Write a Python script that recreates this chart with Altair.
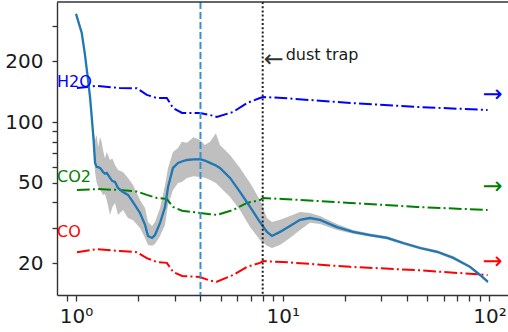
import altair as alt
import pandas as pd

# Radial profile (mean with spread band)
radius = [1.00, 1.066, 1.105, 1.139, 1.169, 1.191, 1.213, 1.236, 1.259, 1.28,
          1.306, 1.33, 1.351, 1.38, 1.408, 1.46, 1.5, 1.544, 1.596, 1.687,
          1.785, 1.887, 2.04, 2.157, 2.23, 2.332, 2.41, 2.55, 2.696, 2.787,
          2.945, 3.115, 3.25, 3.44, 3.7, 3.98, 4.2, 4.45, 4.75, 4.97,
          5.56, 6.21, 6.95, 7.76, 8.39, 8.87, 9.70, 10.84, 12.13, 13.55,
          15.14, 18.3, 21.9, 26.4, 32.0, 38.2, 46.2, 55.8, 66.7, 80.6,
          90.1, 98.4]
profile_mean = [343, 276, 215, 167, 133, 106, 84.4, 62.8, 60.0, 59.8,
                59.3, 58.0, 56.6, 55.5, 56.0, 52.9, 51.0, 50.5, 47.2, 45.1,
                43.6, 40.2, 35.5, 31.0, 27.3, 26.7, 27.6, 31.7, 38.0, 47.7,
                59.3, 62.8, 63.8, 64.9, 65.3, 65.6, 64.5, 62.8, 61.0, 59.3,
                52.9, 45.1, 38.0, 32.0, 28.6, 27.3, 28.6, 30.6, 32.8, 33.5,
                32.8, 30.2, 28.6, 27.6, 26.7, 25.2, 23.8, 22.8, 21.3, 19.2,
                17.5, 16.2]
profile_hi = [350, 282, 220, 171, 137, 111, 92, 81.5, 86.3, 75,
              84.4, 80, 72.8, 66, 71.1, 64.9, 66, 61.3, 57.9, 56.6,
              52.9, 48.8, 41.1, 37.6, 32.0, 30.6, 32.0, 37.6, 48.8, 59.3,
              71.1, 74.5, 80, 78.9, 84, 81.5, 77, 79.8, 88, 77.1,
              68.7, 59.3, 50.0, 41.1, 33.5, 32.0, 32.8, 34.3, 35.9, 35.5,
              34.3, 31.3, 29.2, 28.1, 27.2, 25.6, 24.2, 23.2, 21.7, 19.5,
              17.8, 16.5]
profile_lo = [336, 270, 210, 163, 129, 101, 79, 56.6, 50.0, 48,
              46.1, 45, 43.6, 44, 41.1, 34.7, 38, 39.8, 34.7, 36.7,
              33.5, 32.7, 29.9, 26.7, 24.6, 24.4, 24.9, 27.3, 31.0, 38.9,
              46.1, 50.0, 50.5, 52.9, 54, 53.5, 53, 51.6, 50, 47.7,
              42.6, 36.7, 30.2, 26.1, 24.4, 23.8, 24.6, 26.7, 29.2, 31.7,
              31.3, 29.2, 28.0, 27.1, 26.2, 24.8, 23.4, 22.4, 20.9, 18.9,
              17.2, 15.9]

# Snow-line temperatures of the volatiles
gas_radius = [1.01, 1.26, 1.63, 1.97, 2.2, 2.46, 2.75, 2.95, 3.26, 3.98,
              4.45, 4.8, 5.75, 6.72, 7.76, 8.03, 10.0, 21.2, 44.6, 98.0]
h2o = [147.5, 151, 147.5, 147, 136.3, 131.6, 131.6, 117.4, 110.9, 110.9,
       108.4, 106, 112.2, 124.3, 131.6, 133.1, 131.6, 124.3, 118.8, 114.8]
co2 = [46.1, 46.6, 46.1, 45.3, 43.6, 42.1, 41.6, 38.0, 36.4, 35.5,
       35.0, 34.7, 36.7, 39.8, 41.1, 42.1, 41.6, 39.8, 38.0, 36.7]
co = [22.7, 23.5, 23.0, 22.7, 21.2, 20.3, 20.1, 18.1, 17.3, 17.1,
      16.4, 16.2, 17.5, 19.2, 20.1, 20.5, 20.3, 19.2, 18.5, 17.5]

species = ["H2O", "CO2", "CO"]
species_colors = ["#0000ff", "#008000", "#ff0000"]
label_y = [158, 53.5, 28.6]
arrow_y = [136, 47.7, 20.3]
arrow_x = 103.5

snowline_r = 4
dust_trap_r = 8
dust_trap_y = 200

x_domain = [0.809, 123]
y_domain = [13.93, 393]
x_ticks = [0.9, 1, 2, 3, 4, 5, 6, 7, 8, 9, 10, 20, 30, 40, 50, 60, 70, 80, 90, 100]
y_ticks = [20, 30, 40, 50, 60, 70, 80, 90, 100, 200, 300]

FONT = "DejaVu Sans"
TXT = "#1a1a1a"
SPINE = "#333333"

prof = pd.DataFrame({"r": radius, "mean": profile_mean,
                     "hi": profile_hi, "lo": profile_lo})
gas = pd.concat([
    pd.DataFrame({"r": gas_radius, "T": vals, "species": name})
    for name, vals in zip(species, [h2o, co2, co])
])
labels = pd.DataFrame({"species": species, "y": label_y, "x": x_domain[0]})
arrows = pd.DataFrame({"species": species, "y": arrow_y, "x": arrow_x})
trap = pd.DataFrame({"r": [dust_trap_r], "y": [dust_trap_y]})

xs = alt.Scale(type="log", domain=x_domain, nice=False)
ys = alt.Scale(type="log", domain=y_domain, nice=False)
cs = alt.Scale(domain=species, range=species_colors)

x_axis = alt.Axis(
    values=x_ticks, title=None,
    labelExpr="datum.value == 1 ? '10⁰' : datum.value == 10 ? '10¹' : datum.value == 100 ? '10²' : ''",
    labelPadding=5, tickSize=6,
)
y_axis = alt.Axis(
    values=y_ticks, title=None,
    labelExpr="datum.value == 20 ? '20' : datum.value == 50 ? '50' : datum.value == 100 ? '100' : datum.value == 200 ? '200' : ''",
    labelPadding=9, tickSize=5,
)

band = alt.Chart(prof).mark_area(color="gray", opacity=0.5).encode(
    x=alt.X("r:Q", scale=xs, axis=x_axis),
    y=alt.Y("lo:Q", scale=ys, axis=y_axis),
    y2="hi:Q",
)

gas_lines = alt.Chart(gas).mark_line(strokeWidth=2, strokeDash=[12.8, 3.2, 2, 3.2]).encode(
    x=alt.X("r:Q", scale=xs),
    y=alt.Y("T:Q", scale=ys),
    color=alt.Color("species:N", scale=cs, legend=None),
    detail="species:N",
)

mean_line = alt.Chart(prof).mark_line(color="#1f77b4", strokeWidth=2.3).encode(
    x=alt.X("r:Q", scale=xs),
    y=alt.Y("mean:Q", scale=ys),
)

snowline = alt.Chart(pd.DataFrame({"r": [snowline_r]})).mark_rule(
    color="#3a8fd0", strokeWidth=2, strokeDash=[7, 3]
).encode(x=alt.X("r:Q", scale=xs))

trap_line = alt.Chart(trap).mark_rule(
    color="#222", strokeWidth=2, strokeDash=[2, 2.2]
).encode(x=alt.X("r:Q", scale=xs))

# top spine of the frame
top_spine = alt.Chart(trap).mark_rule(color=SPINE, strokeWidth=1.4).encode(
    x=alt.value(0), x2=alt.value(451), y=alt.value(0)
)

trap_arrow = alt.Chart(trap).mark_text(
    text="←", font=FONT, fontSize=24, color="#333", align="left", baseline="middle", dx=1, dy=-1
).encode(x=alt.X("r:Q", scale=xs), y=alt.Y("y:Q", scale=ys))

trap_text = alt.Chart(trap).mark_text(
    text="dust trap", font=FONT, fontSize=16, color=TXT, align="left", baseline="middle", dx=23, dy=-6
).encode(x=alt.X("r:Q", scale=xs), y=alt.Y("y:Q", scale=ys))

name_labels = alt.Chart(labels).mark_text(
    font=FONT, fontSize=16, align="left", baseline="middle"
).encode(
    x=alt.X("x:Q", scale=xs),
    y=alt.Y("y:Q", scale=ys),
    text="species:N",
    color=alt.Color("species:N", scale=cs, legend=None),
)

side_arrows = alt.Chart(arrows).mark_text(
    text="→", font=FONT, fontSize=24, align="center", baseline="middle"
).encode(
    x=alt.X("x:Q", scale=xs),
    y=alt.Y("y:Q", scale=ys),
    color=alt.Color("species:N", scale=cs, legend=None),
)

chart = alt.layer(
    band, gas_lines, mean_line, snowline, trap_line, top_spine,
    trap_arrow, trap_text, name_labels, side_arrows,
).properties(
    width=451, height=293,
    padding={"left": 57, "top": 2, "right": 0, "bottom": 37},
    autosize=alt.AutoSizeParams(type="none"),
).configure_view(
    stroke=None
).configure_axis(
    grid=False, labelOverlap=False, labelFont=FONT, labelFontSize=20,
    labelColor=TXT, tickColor=SPINE, tickWidth=1.3,
    domainColor=SPINE, domainWidth=1.4,
)

chart.save("out.html", embed_options={"renderer": "svg", "actions": False})
